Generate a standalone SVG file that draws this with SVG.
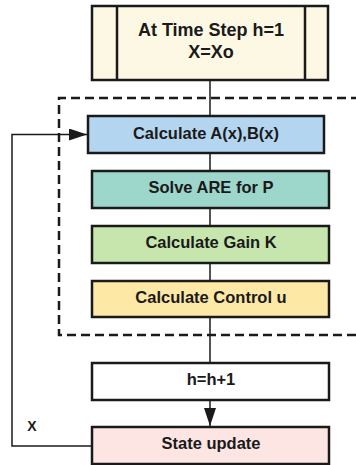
<svg xmlns="http://www.w3.org/2000/svg" width="356" height="465" viewBox="0 0 356 465">
<defs>
<style>
.box{stroke:#1a1a1a;stroke-width:2.5}
.t{font-family:"Liberation Sans",Arial,sans-serif;font-weight:bold;font-size:16.5px;fill:#1a1a1a;text-anchor:middle}
.c{stroke:#1a1a1a;stroke-width:1.5;fill:none}
</style>
<marker id="ah" viewBox="0 0 18 12" refX="18" refY="6" markerWidth="18" markerHeight="12" markerUnits="userSpaceOnUse" orient="auto">
<path d="M0,0 L18,6 L0,12 Z" fill="#1a1a1a"/>
</marker>
</defs>
<rect width="356" height="465" fill="#ffffff"/>
<path d="M360,98 H59 V335 H360" fill="none" stroke="#1a1a1a" stroke-width="2.5" stroke-dasharray="9,5"/>
<g id="connectors">
<line class="c" x1="210" y1="80" x2="210" y2="116"/>
<line class="c" x1="210" y1="153" x2="210" y2="171"/>
<line class="c" x1="210" y1="208" x2="210" y2="226"/>
<line class="c" x1="210" y1="263" x2="210" y2="281"/>
<line class="c" x1="210" y1="317" x2="210" y2="363"/>
<line class="c" x1="210" y1="400" x2="210" y2="426" marker-end="url(#ah)"/>
<polyline class="c" points="92,446 12,446 12,134.5 87,134.5" marker-end="url(#ah)"/>
<text class="t" x="32" y="431" style="font-size:14px">X</text>
</g>
<g id="start">
<rect class="box" x="92" y="6" width="236" height="74" fill="#fdf8e4"/>
<line class="box" x1="117" y1="6" x2="117" y2="80"/>
<line class="box" x1="305" y1="6" x2="305" y2="80"/>
<text class="t" x="211" y="36" style="font-size:18px">At Time Step h=1</text>
<text class="t" x="211" y="58" style="font-size:18px">X=Xo</text>
</g>
<g id="calcAB">
<rect class="box" x="88" y="116" width="236" height="37" fill="#b4d5ef"/>
<text class="t" x="206" y="139">Calculate A(x),B(x)</text>
</g>
<g id="solveARE">
<rect class="box" x="92" y="171" width="237" height="37" fill="#9dd6cb"/>
<text class="t" x="211" y="193">Solve ARE for P</text>
</g>
<g id="gainK">
<rect class="box" x="92" y="226" width="237" height="37" fill="#c6e6ad"/>
<text class="t" x="211" y="248">Calculate Gain K</text>
</g>
<g id="controlU">
<rect class="box" x="92" y="281" width="237" height="36" fill="#fde8a6"/>
<text class="t" x="211" y="303">Calculate Control u</text>
</g>
<g id="hinc">
<rect class="box" x="92" y="363" width="237" height="37" fill="#ffffff"/>
<text class="t" x="211" y="385">h=h+1</text>
</g>
<g id="stateUpdate">
<rect class="box" x="92" y="427" width="237" height="37" fill="#fde5e3"/>
<text class="t" x="211" y="449">State update</text>
</g>
</svg>
